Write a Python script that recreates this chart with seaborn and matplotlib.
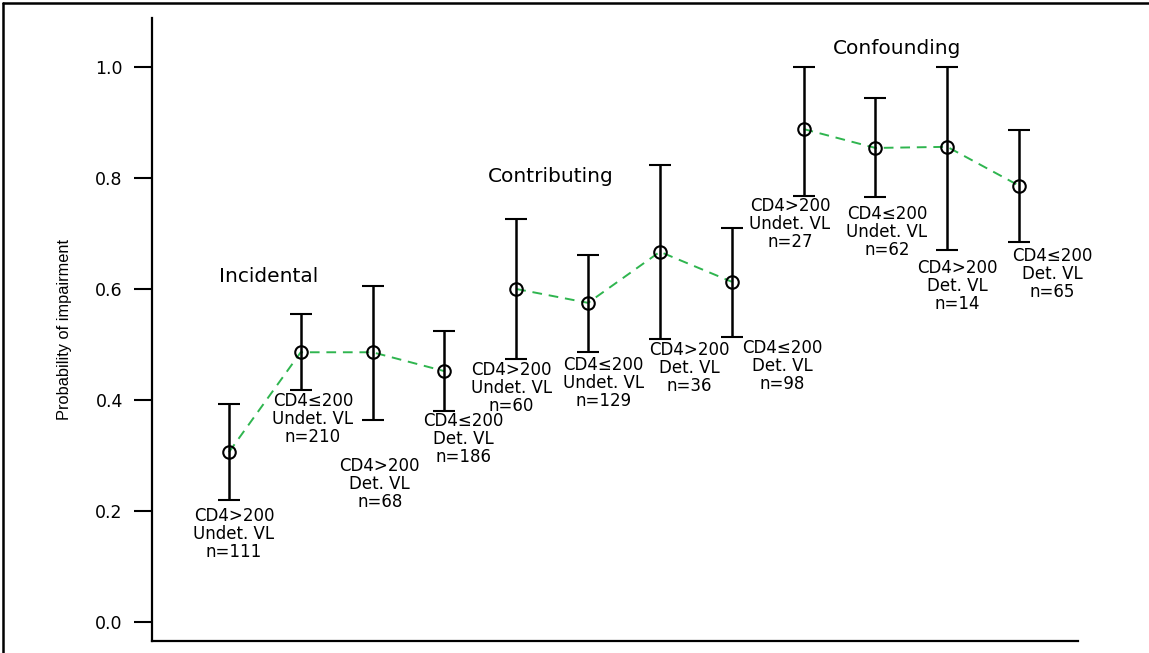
import numpy as np
import pandas as pd
import seaborn as sns
import matplotlib.pyplot as plt
from matplotlib.lines import Line2D

# values
groups = ['Incidental'] * 4 + ['Contributing'] * 4 + ['Confounding'] * 4
position = list(range(1, 13))
prob = [0.306, 0.486, 0.486, 0.452, 0.600, 0.575, 0.667, 0.613, 0.888, 0.854, 0.856, 0.786]
upper = [0.393, 0.555, 0.605, 0.524, 0.726, 0.661, 0.823, 0.710, 1.000, 0.944, 1.000, 0.886]
lower = [0.220, 0.418, 0.364, 0.380, 0.474, 0.486, 0.510, 0.514, 0.768, 0.766, 0.670, 0.685]
labels = ['CD4>200\nUndet. VL\nn=111', 'CD4≤200\nUndet. VL\nn=210',
          'CD4>200\nDet. VL\nn=68', 'CD4≤200\nDet. VL\nn=186',
          'CD4>200\nUndet. VL\nn=60', 'CD4≤200\nUndet. VL\nn=129',
          'CD4>200\nDet. VL\nn=36', 'CD4≤200\nDet. VL\nn=98',
          'CD4>200\nUndet. VL\nn=27', 'CD4≤200\nUndet. VL\nn=62',
          'CD4>200\nDet. VL\nn=14', 'CD4≤200\nDet. VL\nn=65']

# where the annotation text sits (data coords, top-centre of each label)
label_x = [1.07, 2.17, 3.10, 4.26, 4.93, 6.21, 7.41, 8.70, 8.81, 10.16, 11.14, 12.46]
label_y = [0.208, 0.414, 0.297, 0.378, 0.471, 0.480, 0.506, 0.509, 0.765, 0.751, 0.654, 0.675]
group_names = ['Incidental', 'Contributing', 'Confounding']
group_x = [1.56, 5.48, 10.30]
group_y = [0.622, 0.802, 1.034]

df = pd.DataFrame({'group': groups, 'pos': position, 'prob': prob,
                   'upper': upper, 'lower': lower})

sns.set_style('ticks')
plt.rcParams['font.family'] = ['DejaVu Sans']
plt.rcParams['text.color'] = 'black'
plt.rcParams['axes.labelcolor'] = 'black'

fig = plt.figure(figsize=(11.49, 6.53), dpi=100)
ax = fig.add_axes([0.1323, 0.0184, 0.8059, 0.954])

green = '#2fb54f'
sns.lineplot(data=df, x='pos', y='prob', hue='group', palette=[green] * 3,
             legend=False, ax=ax, linewidth=1.4, zorder=2)
for ln in ax.get_lines():
    ln.set_dashes([5, 3.5])

err = np.array([df['prob'] - df['lower'], df['upper'] - df['prob']])
ax.errorbar(df['pos'], df['prob'], yerr=err, fmt='o', ms=9, mfc='none',
            mec='black', mew=1.5, ecolor='black', elinewidth=1.8,
            capsize=8, capthick=1.8, zorder=3)

for x, y, t in zip(label_x, label_y, labels):
    ax.text(x, y, t, ha='center', va='top', fontsize=12, linespacing=1.0,
            color='black')
for x, y, t in zip(group_x, group_y, group_names):
    ax.text(x, y, t, ha='center', va='center', fontsize=14.5, color='black')

ax.set_xlim(-0.07, 12.82)
ax.set_ylim(-0.034, 1.088)
ax.set_yticks([0.0, 0.2, 0.4, 0.6, 0.8, 1.0])
ax.set_yticklabels(['0.0', '0.2', '0.4', '0.6', '0.8', '1.0'])
ax.set_xticks([])
ax.set_xlabel('')
ax.set_ylabel('Probability of impairment', family='Liberation Sans',
              fontsize=11.8, labelpad=17, color='black')
ax.tick_params(axis='y', length=13, width=1.5, pad=8, labelsize=12.5,
               colors='black')
for side in ['left', 'bottom']:
    ax.spines[side].set_linewidth(1.6)
    ax.spines[side].set_color('black')
sns.despine(ax=ax)

# frame along the top and left edge of the picture
fig.add_artist(Line2D([0.003, 1.0], [0.996, 0.996], color='black', lw=1.8))
fig.add_artist(Line2D([0.003, 0.003], [0.0, 0.996], color='black', lw=1.8))

fig.savefig('out.png', dpi=100)
